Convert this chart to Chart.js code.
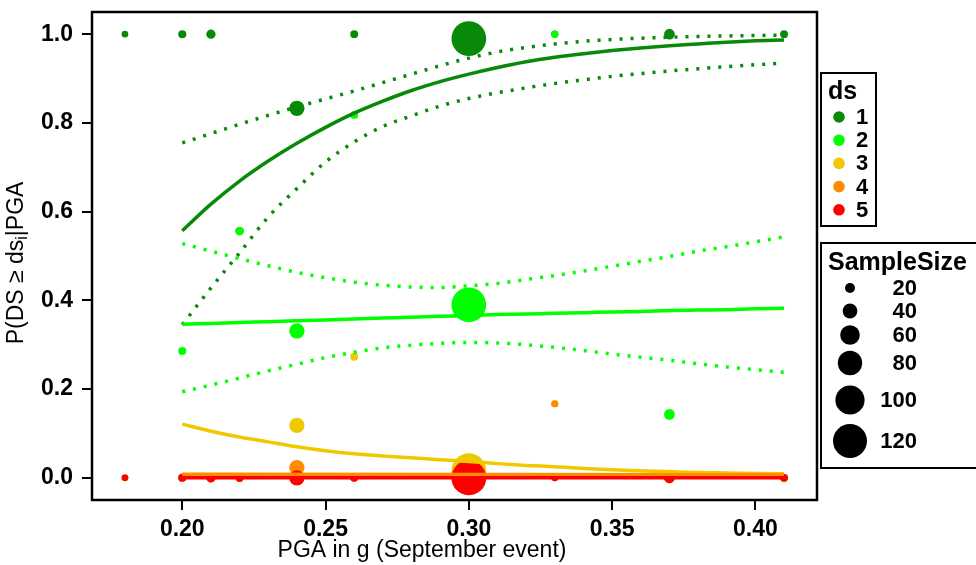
<!DOCTYPE html>
<html>
<head>
<meta charset="utf-8">
<script src="https://cdn.jsdelivr.net/npm/chart.js@4.4.0/dist/chart.umd.min.js"></script>
<style>
  html, body { margin: 0; padding: 0; background: #fff; }
</style>
</head>
<body>
<canvas id="fragChart" width="976" height="565"></canvas>
<script>
// observed proportions per PGA bin
const pga = [0.18, 0.20, 0.21, 0.22, 0.24, 0.26, 0.30, 0.33, 0.37, 0.41];
const sampleSize = [6, 12, 17, 13, 42, 11, 123, 8, 23, 11];
const obsDs1 = [1.0, 1.0, 1.0, 0.556, 0.833, 1.0, 0.990, 1.0, 1.0, 1.0];
const obsDs2 = [0, 0.286, 0, 0.556, 0.331, 0.818, 0.390, 1.0, 0.143, 0];
const obsDs3 = [0, 0, 0, 0, 0.118, 0.273, 0.016, 0.167, 0, 0];
const obsDs4 = [0, 0, 0, 0, 0.023, 0, 0, 0.167, 0, 0];
const obsDs5 = [0, 0, 0, 0, 0, 0, 0, 0, 0, 0];

// fitted curves
const fitX = [0.20, 0.21, 0.22, 0.23, 0.24, 0.25, 0.26, 0.27, 0.28, 0.29, 0.30,
              0.31, 0.32, 0.33, 0.34, 0.35, 0.36, 0.37, 0.38, 0.39, 0.40, 0.41];
const fitDs1 = [0.557, 0.617, 0.669, 0.714, 0.754, 0.790, 0.822, 0.849, 0.873, 0.893, 0.910,
                0.925, 0.938, 0.948, 0.956, 0.963, 0.969, 0.974, 0.978, 0.982, 0.985, 0.987];
const upperDs1 = [0.755, 0.776, 0.797, 0.817, 0.836, 0.854, 0.872, 0.891, 0.910, 0.929, 0.946,
                  0.960, 0.970, 0.978, 0.984, 0.988, 0.991, 0.993, 0.995, 0.996, 0.997, 0.998];
const lowerDs1 = [0.345, 0.428, 0.507, 0.588, 0.652, 0.712, 0.757, 0.792, 0.816, 0.838, 0.855,
                  0.868, 0.879, 0.889, 0.897, 0.905, 0.911, 0.917, 0.922, 0.927, 0.931, 0.935];
const fitDs2 = [0.346, 0.348, 0.350, 0.352, 0.354, 0.356, 0.358, 0.360, 0.362, 0.364, 0.366,
                0.368, 0.369, 0.371, 0.372, 0.374, 0.375, 0.377, 0.378, 0.379, 0.381, 0.382];
const upperDs2 = [0.528, 0.511, 0.494, 0.478, 0.463, 0.451, 0.441, 0.434, 0.430, 0.429, 0.433,
                  0.438, 0.447, 0.456, 0.466, 0.477, 0.488, 0.499, 0.511, 0.521, 0.532, 0.543];
const lowerDs2 = [0.194, 0.209, 0.225, 0.241, 0.256, 0.271, 0.283, 0.293, 0.299, 0.303, 0.305,
                  0.304, 0.300, 0.294, 0.287, 0.279, 0.272, 0.265, 0.257, 0.250, 0.244, 0.238];
const fitDs3 = [0.121, 0.105, 0.092, 0.081, 0.070, 0.061, 0.054, 0.049, 0.045, 0.041, 0.037,
                0.032, 0.028, 0.025, 0.021, 0.018, 0.016, 0.014, 0.012, 0.011, 0.010, 0.009];
const endX = [0.20, 0.41];
const fitDs4 = [0.008, 0.007];
const fitDs5 = [0.0, 0.0];

const dsLabels = ['1', '2', '3', '4', '5'];
const dsColors = ['#088a08', '#00ff00', '#eec900', '#ff8c00', '#ff0000'];
const sizeBreaks = [20, 40, 60, 80, 100, 120];
const xTicks = [0.20, 0.25, 0.30, 0.35, 0.40];
const yTicks = [0.0, 0.2, 0.4, 0.6, 0.8, 1.0];

const FONT = '"Liberation Sans", Arial, Helvetica, sans-serif';

function pointSize(n) {
    return 5 + (n - 20) * 0.12;
}

function toPoints(xs, ys, ns) {
    return xs.map((x, i) => ns ? { x: x, y: ys[i], n: ns[i] } : { x: x, y: ys[i] });
}

function pointSet(ys, color) {
    return {
        type: 'scatter',
        data: toPoints(pga, ys, sampleSize),
        backgroundColor: color,
        borderWidth: 0,
        pointRadius: ctx => pointSize(ctx.raw.n),
        showLine: false
    };
}

function lineSet(xs, ys, color, dotted) {
    return {
        type: 'line',
        data: toPoints(xs, ys),
        borderColor: color,
        borderWidth: 3.5,
        borderDash: dotted ? [3, 8] : [],
        borderCapStyle: 'butt',
        pointRadius: 0,
        cubicInterpolationMode: 'monotone',
        fill: false
    };
}

// bottom-to-top drawing order
const datasets = [
    pointSet(obsDs1, dsColors[0]),
    pointSet(obsDs2, dsColors[1]),
    pointSet(obsDs3, dsColors[2]),
    pointSet(obsDs4, dsColors[3]),
    pointSet(obsDs5, dsColors[4]),
    lineSet(fitX, upperDs1, dsColors[0], true),
    lineSet(fitX, lowerDs1, dsColors[0], true),
    lineSet(fitX, fitDs1, dsColors[0], false),
    lineSet(fitX, upperDs2, dsColors[1], true),
    lineSet(fitX, lowerDs2, dsColors[1], true),
    lineSet(fitX, fitDs2, dsColors[1], false),
    lineSet(fitX, fitDs3, dsColors[2], false),
    lineSet(endX, fitDs4, dsColors[3], false),
    lineSet(endX, fitDs5, dsColors[4], false)
];
datasets.forEach((d, i) => { d.order = datasets.length - i; });

const decorPlugin = {
    id: 'decor',
    afterDraw(chart) {
        const ctx = chart.ctx;
        const area = chart.chartArea;
        ctx.save();

        // panel frame
        ctx.strokeStyle = '#000';
        ctx.lineWidth = 2.5;
        ctx.strokeRect(area.left, area.top, area.right - area.left, area.bottom - area.top);

        // x title
        ctx.fillStyle = '#000';
        ctx.font = '23px ' + FONT;
        ctx.textAlign = 'center';
        ctx.textBaseline = 'alphabetic';
        ctx.fillText('PGA in g (September event)', 422, 557);

        // y title with subscript
        ctx.save();
        ctx.translate(17, 263);
        ctx.rotate(-Math.PI / 2);
        const partA = 'P(DS \u2265 ds';
        const partB = 'i';
        const partC = '|PGA';
        ctx.font = '23px ' + FONT;
        const wA = ctx.measureText(partA).width;
        const wC = ctx.measureText(partC).width;
        ctx.font = '16px ' + FONT;
        const wB = ctx.measureText(partB).width;
        let x0 = -(wA + wB + wC) / 2;
        ctx.textAlign = 'left';
        ctx.textBaseline = 'middle';
        ctx.font = '23px ' + FONT;
        ctx.fillText(partA, x0, 0);
        ctx.font = '16px ' + FONT;
        ctx.fillText(partB, x0 + wA, 6);
        ctx.font = '23px ' + FONT;
        ctx.fillText(partC, x0 + wA + wB, 0);
        ctx.restore();

        // ds legend
        ctx.lineWidth = 2;
        ctx.strokeRect(821, 73, 55, 153);
        ctx.textAlign = 'left';
        ctx.textBaseline = 'alphabetic';
        ctx.font = 'bold 25px ' + FONT;
        ctx.fillText('ds', 828, 99);
        ctx.font = 'bold 22px ' + FONT;
        ctx.textBaseline = 'middle';
        dsLabels.forEach((lab, i) => {
            const y = 117 + i * 23.2;
            ctx.fillStyle = dsColors[i];
            ctx.beginPath();
            ctx.arc(839, y, 5.8, 0, Math.PI * 2);
            ctx.fill();
            ctx.fillStyle = '#000';
            ctx.fillText(lab, 856, y + 1);
        });

        // sample size legend
        ctx.strokeRect(821, 243, 170, 225);
        ctx.textBaseline = 'alphabetic';
        ctx.font = 'bold 25px ' + FONT;
        ctx.fillText('SampleSize', 828, 270);
        const keyY = [288, 311, 335, 363, 400, 441];
        ctx.font = 'bold 22px ' + FONT;
        ctx.textAlign = 'right';
        ctx.textBaseline = 'middle';
        sizeBreaks.forEach((n, i) => {
            ctx.fillStyle = '#000';
            ctx.beginPath();
            ctx.arc(850, keyY[i], pointSize(n), 0, Math.PI * 2);
            ctx.fill();
            ctx.fillText(String(n), 917, keyY[i] + 1);
        });

        ctx.restore();
    }
};

const tickFont = { family: FONT, size: 23, weight: 'bold' };
const noPadding = () => ({ left: 0, top: 0, right: 0, bottom: 0 });

new Chart(document.getElementById('fragChart'), {
    type: 'scatter',
    data: { datasets: datasets },
    options: {
        responsive: false,
        animation: false,
        events: [],
        devicePixelRatio: 1,
        layout: {
            autoPadding: false,
            padding: { top: 12, right: 159, bottom: 0, left: 0 }
        },
        plugins: {
            legend: { display: false },
            tooltip: { enabled: false }
        },
        scales: {
            x: {
                type: 'linear',
                min: 0.1685,
                max: 0.4215,
                afterBuildTicks: scale => { scale.ticks = xTicks.map(v => ({ value: v })); },
                afterFit: scale => {
                    scale.height = 65;
                    scale.paddingLeft = 0;
                    scale.paddingRight = 0;
                    scale.getPadding = noPadding;
                },
                ticks: {
                    color: '#000',
                    font: tickFont,
                    padding: 6,
                    maxRotation: 0,
                    callback: v => v.toFixed(2)
                },
                grid: { drawOnChartArea: false, drawTicks: true, tickLength: 10, color: '#000', lineWidth: 2 },
                border: { display: false }
            },
            y: {
                type: 'linear',
                min: -0.05,
                max: 1.05,
                afterBuildTicks: scale => { scale.ticks = yTicks.map(v => ({ value: v })); },
                afterFit: scale => {
                    scale.width = 92;
                    scale.paddingTop = 0;
                    scale.paddingBottom = 0;
                    scale.getPadding = noPadding;
                },
                ticks: {
                    color: '#000',
                    font: tickFont,
                    padding: 9,
                    callback: v => v.toFixed(1)
                },
                grid: { drawOnChartArea: false, drawTicks: true, tickLength: 10, color: '#000', lineWidth: 2 },
                border: { display: false }
            }
        }
    },
    plugins: [decorPlugin]
});
</script>
</body>
</html>
